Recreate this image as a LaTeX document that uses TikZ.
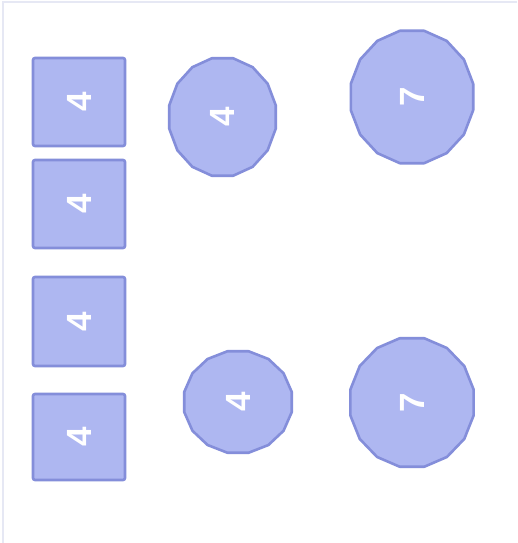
\documentclass[tikz,border=0pt]{standalone}
\usepackage{fontspec}
\setmainfont{Liberation Sans}
\definecolor{fillc}{RGB}{174,183,241}
\definecolor{edgec}{RGB}{132,142,218}
\definecolor{framec}{RGB}{230,232,244}
\begin{document}
\begin{tikzpicture}[x=1pt,y=-1pt,
  sq/.style={draw=edgec,fill=fillc,line width=2.6pt,rounded corners=2pt,minimum width=92,minimum height=88,inner sep=0pt},
  poly/.style={draw=edgec,fill=fillc,line width=2.6pt,line join=round},
  lbl/.style={text=white,font=\fontsize{35}{35}\selectfont\bfseries,rotate=90,inner sep=0pt}]
\useasboundingbox (0,0) rectangle (517,543);
\fill[white] (0,0) rectangle (517,543);
\draw[framec,line width=1.5pt] (3,543) -- (3,2) -- (517,2);
% squares
\node[sq] (s1) at (79,102) {};
\node[sq] (s2) at (79,204) {};
\node[sq, minimum height=89] (s3) at (79,321.5) {};
\node[sq, minimum height=86] (s4) at (79,437) {};
\node[lbl] (t1) at (s1) {4};
\node[lbl] (t2) at (s2) {4};
\node[lbl] (t3) at (s3) {4};
\node[lbl] (t4) at (s4) {4};
% polygons (16 sides, flat top)
\draw[poly,shift={(222.5,117)}] (11.25:54.3 and 59.9) \foreach \a in {33.75,56.25,...,350}{ -- (\a:54.3 and 59.9)} -- cycle;
\draw[poly,shift={(412,97)}] (11.25:62.4 and 67.5) \foreach \a in {33.75,56.25,...,350}{ -- (\a:62.4 and 67.5)} -- cycle;
\draw[poly,shift={(238,402)}] (11.25:54.8 and 51.7) \foreach \a in {33.75,56.25,...,350}{ -- (\a:54.8 and 51.7)} -- cycle;
\draw[poly,shift={(412,402.5)}] (11.25:62.9 and 65.5) \foreach \a in {33.75,56.25,...,350}{ -- (\a:62.9 and 65.5)} -- cycle;
\node[lbl] (p1) at (222.5,117) {4};
\node[lbl] (p2) at (412,97) {7};
\node[lbl] (p3) at (238,402) {4};
\node[lbl] (p4) at (412,402.5) {7};
\end{tikzpicture}
\end{document}
